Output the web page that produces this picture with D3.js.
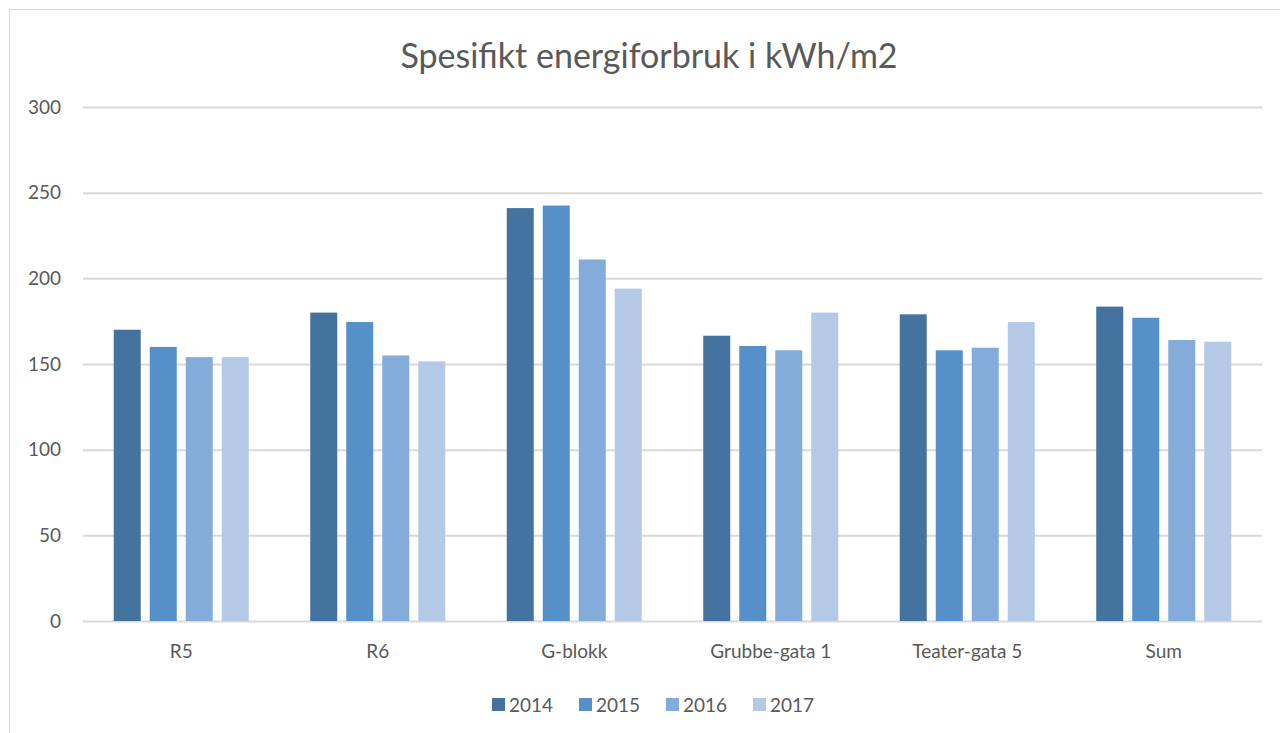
<!DOCTYPE html>
<html>
<head>
<meta charset="utf-8">
<script src="https://cdn.jsdelivr.net/npm/d3@7"></script>
<style>
  body { margin: 0; background: #fff; }
  svg { display: block; }
  svg text { font-family: Lato, "Open Sans", sans-serif; }
  .tick text { fill: #595959; }
</style>
</head>
<body>
<svg id="chart" width="1280" height="733"></svg>
<script>
// chart data
var title = "Spesifikt energiforbruk i kWh/m2";
var categories = ["R5", "R6", "G-blokk", "Grubbe-gata 1", "Teater-gata 5", "Sum"];
var years = ["2014", "2015", "2016", "2017"];
var v2014 = [170, 180, 241, 166.5, 179, 183.5];
var v2015 = [160, 174.5, 242.5, 160.5, 158, 177];
var v2016 = [154, 155, 211, 158, 159.5, 164];
var v2017 = [154, 151.5, 194, 180, 174.5, 163];
var yTicks = [0, 50, 100, 150, 200, 250, 300];
var colors = ["#44739f", "#5590c8", "#84acdb", "#b4c9e6"];

var series = [v2014, v2015, v2016, v2017];

var svg = d3.select("#chart");

// chart area border (only left and top visible in frame)
svg.append("rect")
    .attr("x", 9.5).attr("y", 9.5)
    .attr("width", 1400).attr("height", 900)
    .attr("fill", "#fff")
    .attr("stroke", "#d9d9d9");

var plotLeft = 83, plotRight = 1262, plotTop = 107, plotBottom = 621;

var y = d3.scaleLinear().domain([0, 300]).range([plotBottom, plotTop]);
var x0 = d3.scaleBand().domain(categories).range([plotLeft, plotRight]);
var x1 = d3.scaleBand().domain(years).range([0, x0.bandwidth()])
    .paddingInner(0.25).paddingOuter(0.854);
var color = d3.scaleOrdinal().domain(years).range(colors);

// gridlines + y labels
var yAxis = svg.append("g")
    .attr("transform", "translate(" + plotLeft + ",0)")
    .call(d3.axisLeft(y).tickValues(yTicks).tickSize(-(plotRight - plotLeft)).tickPadding(22));
yAxis.attr("font-family", null).attr("font-size", null);
yAxis.select(".domain").remove();
yAxis.selectAll(".tick line").attr("stroke", "#d9d9d9").attr("stroke-width", 2);
yAxis.selectAll(".tick text").style("font-size", "19px");

// bars
var groups = svg.append("g").selectAll("g")
    .data(categories)
    .enter().append("g")
    .attr("transform", function(d) { return "translate(" + x0(d) + ",0)"; });

groups.selectAll("rect")
    .data(function(d, i) {
        return years.map(function(yr, j) { return { year: yr, value: series[j][i] }; });
    })
    .enter().append("rect")
    .attr("x", function(d) { return x1(d.year); })
    .attr("y", function(d) { return y(d.value); })
    .attr("width", x1.bandwidth())
    .attr("height", function(d) { return y(0) - y(d.value); })
    .attr("fill", function(d) { return color(d.year); });

// category axis
var xAxis = svg.append("g")
    .attr("transform", "translate(0," + plotBottom + ")")
    .call(d3.axisBottom(x0).tickSize(0).tickPadding(24));
xAxis.attr("font-family", null).attr("font-size", null);
xAxis.select(".domain").remove();
xAxis.selectAll(".tick text").style("font-size", "19px");

// title
svg.append("text")
    .attr("x", 649).attr("y", 68)
    .attr("text-anchor", "middle")
    .style("font-size", "34px")
    .style("fill", "#595959")
    .text(title);

// legend
var legend = svg.append("g").attr("transform", "translate(492,705)");
var item = legend.selectAll("g")
    .data(years)
    .enter().append("g")
    .attr("transform", function(d, i) { return "translate(" + (i * 87) + ",0)"; });
item.append("rect")
    .attr("x", 0).attr("y", -7)
    .attr("width", 13).attr("height", 13)
    .attr("fill", function(d) { return color(d); });
item.append("text")
    .attr("x", 17).attr("y", 0)
    .attr("dy", "0.35em")
    .style("font-size", "19px")
    .style("fill", "#595959")
    .text(function(d) { return d; });
</script>
</body>
</html>
